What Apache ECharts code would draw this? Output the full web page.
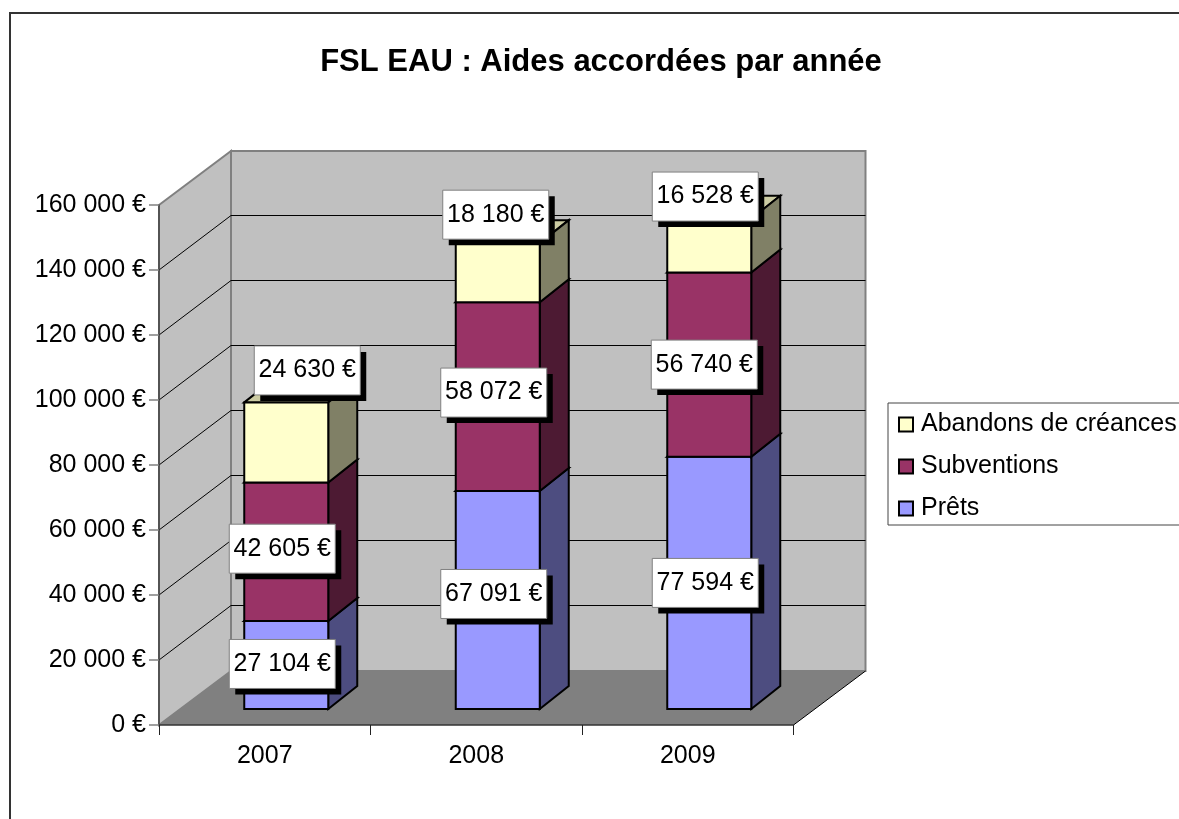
<!DOCTYPE html>
<html><head><meta charset="utf-8">
<style>html,body{margin:0;padding:0;background:#fff}#c{width:1179px;height:819px}</style>
<script src="https://cdn.jsdelivr.net/npm/echarts@6/dist/echarts.min.js"></script>
</head><body><div id="c"></div>
<script>
const categories = ['2007', '2008', '2009'];
const prets = [27104, 67091, 77594];
const subventions = [42605, 58072, 56740];
const abandons = [24630, 18180, 16528];
const yTicks = [0, 20000, 40000, 60000, 80000, 100000, 120000, 140000, 160000];

// label placement relative to the centre of each segment's front face (manually moved in the original)
const pretsLabelOffset = [[-4, -2], [-4, -7], [-4, -1]];
const subventionsLabelOffset = [[-4, -4], [-4, -5], [-5, -1]];
const abandonsLabelOffset = [[21, -73], [-2, -59], [-4, -50]];

const FONT = '"Liberation Sans", Arial, sans-serif';
const WALL = [72, -54];      // depth of the floor
const BAR_SHIFT = [21.5, -16];
const LABEL_SHIFT_Y = -15;
const BAR_HALF = 42;
const BAR_DEPTH = [29, -23];

const fmt = v => String(v).replace(/\B(?=(\d{3})+$)/g, ' ') + ' €';
const poly = (pts, fill, stroke, lw, z2) => ({
  type: 'polygon', z2: z2 || 0, shape: { points: pts },
  style: { fill: fill, stroke: stroke || null, lineWidth: lw || 0, lineJoin: 'miter' }
});
const seg = (a, b, stroke, lw) => ({
  type: 'line', shape: { x1: a[0], y1: a[1], x2: b[0], y2: b[1] },
  style: { stroke: stroke, lineWidth: lw }
});

function renderWalls(params, api) {
  const cs = params.coordSys;
  const l = cs.x, r = cs.x + cs.width;
  const y0 = api.coord([0, 0])[1], yT = api.coord([0, yTicks[yTicks.length - 1]])[1];
  const [dx, dy] = WALL;
  const children = [
    poly([[l + dx, yT + dy], [r + dx, yT + dy], [r + dx, y0 + dy], [l + dx, y0 + dy]], '#C0C0C0', '#808080', 2),
    poly([[l, yT], [l + dx, yT + dy], [l + dx, y0 + dy], [l, y0]], '#C0C0C0', '#808080', 2),
    poly([[l, y0], [r, y0], [r + dx, y0 + dy], [l + dx, y0 + dy]], '#808080')
  ];
  yTicks.forEach(v => {
    if (v === 0 || v === yTicks[yTicks.length - 1]) return;
    const y = api.coord([0, v])[1];
    children.push(seg([l, y], [l + dx, y + dy - 0.5], '#000', 1));
    children.push(seg([l + dx, y + dy - 0.5], [r + dx, y + dy - 0.5], '#000', 1));
  });
  children.push(seg([r, y0], [r + dx, y0 + dy], '#000', 1));
  return { type: 'group', children };
}

function renderSegment(color, side, topCol) {
  return function (params, api) {
    const c = api.coord([api.value(0), api.value(1)]);
    const t = api.coord([api.value(0), api.value(2)]);
    const xl = c[0] + BAR_SHIFT[0] - BAR_HALF, xr = c[0] + BAR_SHIFT[0] + BAR_HALF;
    const yb = c[1] + BAR_SHIFT[1], yt = t[1] + BAR_SHIFT[1];
    const [dx, dy] = BAR_DEPTH;
    return { type: 'group', children: [
      poly([[xl, yt], [xl + dx, yt + dy], [xr + dx, yt + dy], [xr, yt]], topCol, '#000', 2),
      poly([[xr, yb], [xr + dx, yb + dy], [xr + dx, yt + dy], [xr, yt]], side, '#000', 2),
      poly([[xl, yb], [xr, yb], [xr, yt], [xl, yt]], color, '#000', 2)
    ]};
  };
}

function renderLabel(offsets) {
  return function (params, api) {
    const i = api.value(0);
    const a = api.coord([i, api.value(1)]);
    const b = api.coord([i, api.value(2)]);
    const cx = a[0] + BAR_SHIFT[0] + offsets[i][0];
    const cy = (a[1] + b[1]) / 2 + LABEL_SHIFT_Y + offsets[i][1];
    const w = 106, h = 49, s = 6;
    return { type: 'group', children: [
      { type: 'rect', shape: { x: cx - w / 2 + s, y: cy - h / 2 + s, width: w, height: h }, style: { fill: '#000' } },
      { type: 'rect', shape: { x: cx - w / 2, y: cy - h / 2, width: w, height: h }, style: { fill: '#fff', stroke: '#808080', lineWidth: 1 } },
      { type: 'text', style: { x: cx, y: cy, text: fmt(api.value(2) - api.value(1)), align: 'center', verticalAlign: 'middle', font: '25px ' + FONT, fill: '#000' } }
    ]};
  };
}

const base1 = prets.map(() => 0);
const base2 = prets.slice();
const base3 = prets.map((v, i) => v + subventions[i]);
const rows = (base, vals) => vals.map((v, i) => [i, base[i], base[i] + v]);
const stacks = [
  { name: 'Prêts', base: base1, vals: prets, color: '#9999FF', side: '#4D4D80', top: '#7A7ACC', off: pretsLabelOffset },
  { name: 'Subventions', base: base2, vals: subventions, color: '#993366', side: '#4D1A33', top: '#7A2952', off: subventionsLabelOffset },
  { name: 'Abandons de créances', base: base3, vals: abandons, color: '#FFFFCC', side: '#808066', top: '#CCCCA3', off: abandonsLabelOffset }
];

const series = [{
  type: 'custom', name: 'walls', z: 1, silent: true, renderItem: renderWalls,
  data: [[0, 0, 0]], encode: { x: 0, y: 1 }
}];
stacks.forEach(s => series.push({
  type: 'custom', name: s.name, z: 2, renderItem: renderSegment(s.color, s.side, s.top),
  itemStyle: { color: s.color }, data: rows(s.base, s.vals), encode: { x: 0, y: [1, 2] }
}));
stacks.forEach(s => series.push({
  type: 'custom', name: s.name + ' labels', z: 3, renderItem: renderLabel(s.off),
  data: rows(s.base, s.vals), encode: { x: 0, y: [1, 2] }
}));

const chart = echarts.init(document.getElementById('c'), null, { renderer: 'canvas' });
chart.setOption({
  animation: false,
  backgroundColor: '#fff',
  textStyle: { fontFamily: FONT },
  title: {
    text: 'FSL EAU : Aides accordées par année',
    left: 596, top: 42, textAlign: 'center',
    textStyle: { fontFamily: FONT, fontWeight: 'bold', fontSize: 31, color: '#000' }
  },
  legend: {
    orient: 'vertical', left: 888, top: 403, padding: [9, 14, 4, 10],
    itemWidth: 14, itemHeight: 14, itemGap: 17, selectedMode: false,
    backgroundColor: '#fff', borderColor: '#444', borderWidth: 1, borderRadius: 0,
    textStyle: { fontFamily: FONT, fontSize: 25, color: '#000', padding: [0, 0, 0, 3] },
    icon: 'rect',
    data: ['Abandons de créances', 'Subventions', 'Prêts'].map(n => ({
      name: n, itemStyle: { borderColor: '#000', borderWidth: 2 }
    }))
  },
  grid: { left: 159, top: 205, width: 634.5, height: 520, containLabel: false },
  xAxis: {
    type: 'category', data: categories, z: 5,
    axisLine: { lineStyle: { color: '#333', width: 1.5 } },
    axisTick: { show: true, length: 10, alignWithLabel: false, lineStyle: { color: '#222' } },
    axisLabel: { color: '#000', fontSize: 25, fontFamily: FONT, margin: 19 }
  },
  yAxis: {
    type: 'value', min: 0, max: 160000, interval: 20000, z: 5,
    axisLine: { show: true, lineStyle: { color: '#444', width: 1.5 } },
    axisTick: { show: true, length: 10, lineStyle: { color: '#808080', width: 1.5 } },
    splitLine: { show: false },
    axisLabel: { color: '#000', fontSize: 25, fontFamily: FONT, margin: 13, formatter: fmt }
  },
  series: series,
  graphic: [{
    type: 'polyline', silent: true, z: 100,
    shape: { points: [[10, 819], [10, 13], [1179, 13]] },
    style: { stroke: '#333', lineWidth: 2, fill: null }
  }]
});
</script></body></html>
